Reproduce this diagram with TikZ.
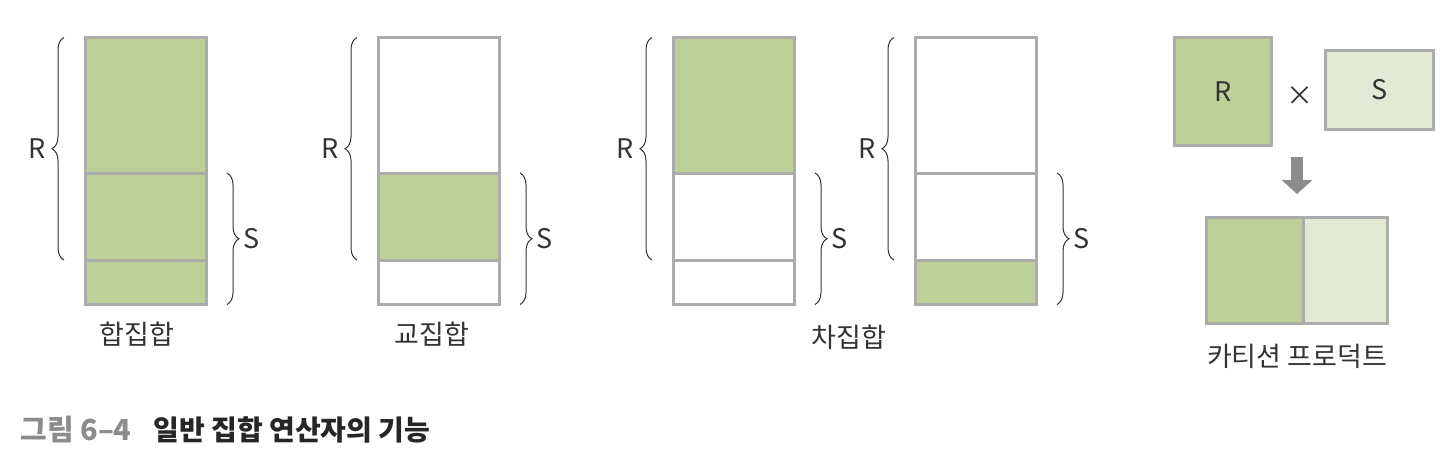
\documentclass[tikz,border=0pt]{standalone}
\usepackage{fontspec}
\setmainfont{Noto Sans CJK KR}
\usetikzlibrary{positioning,decorations.pathreplacing,arrows.meta}

\definecolor{setgreen}{HTML}{BECF99}
\definecolor{setlight}{HTML}{E2EAD5}
\definecolor{setline}{HTML}{ABACAB}
\definecolor{setarrow}{HTML}{8C8C8C}
\definecolor{settext}{HTML}{333333}

\tikzset{
  part/.style={draw=setline, line width=1.5pt, inner sep=0pt, outer sep=0pt,
    minimum width=60.5pt},
  brc/.style={decorate, decoration={brace, amplitude=6pt}, draw=settext, line width=0.5pt},
  lbl/.style={inner sep=0pt, text=settext, font=\fontsize{13.5}{15}\selectfont},
  downarrow/.style={draw=setarrow, line width=6pt, -{Triangle[width=15pt,length=7pt]}}
}

% one column of R and S, #1 name, #2 x, #3-#5 fills top, middle, bottom
\newcommand{\setstack}[5]{
\node[part, fill=#3, minimum height=67.75pt, anchor=north west] (#1t) at (#2,37.5) {};
\node[part, fill=#4, minimum height=43.5pt, below=0pt of #1t] (#1m) {};
\node[part, fill=#5, minimum height=22.25pt, below=0pt of #1m] (#1b) {};
\draw[brc] ([xshift=-10.5pt]#1m.south west) -- ([xshift=-10.5pt]#1t.north west)
  node[lbl, midway, left=9pt] (#1r) {R};
\draw[brc] ([xshift=10.5pt]#1m.north east) -- ([xshift=10.5pt]#1b.south east)
  node[lbl, midway, right=8pt] (#1s) {S};
}

\begin{document}
\begin{tikzpicture}[x=0.5pt, y=-0.5pt]
\useasboundingbox (0,0) rectangle (1440,476);

\setstack{a}{85}{setgreen}{setgreen}{setgreen}
\setstack{b}{378}{white}{setgreen}{white}
\setstack{c}{673}{setgreen}{white}{white}
\setstack{d}{915}{white}{white}{setgreen}

\node[lbl] (union) at (137,334) {합집합};
\node[lbl] (inter) at (432,334) {교집합};
\node[lbl] (diff) at (849,337) {차집합};

% cartesian product
\node[part, fill=setgreen, minimum width=48.5pt, minimum height=54pt] (cr) at (1223,91.5) {};
\node[lbl] (crr) at (cr) {R};
\node[lbl] (times) at (1300,96) {×};
\node[part, fill=setlight, minimum width=54pt, minimum height=39.5pt] (cs) at (1379.5,90) {};
\node[lbl] (css) at (cs) {S};

\coordinate (ar1) at (1297,157);
\coordinate (ar2) at (1297,194);
\draw[downarrow] (ar1) -- (ar2);

\node[part, fill=setgreen, minimum width=48.25pt, minimum height=53pt, anchor=north west] (pl) at (1206.5,217.5) {};
\node[part, fill=setlight, minimum width=42.25pt, minimum height=53pt, right=0pt of pl] (pr) {};
\node[lbl] (prod) at (1297,356) {카티션 프로덕트};

% caption
\node[anchor=west, inner sep=0pt, text=setarrow, font=\fontsize{14.5}{16}\selectfont\bfseries] (fignum) at (20,430) {그림 6–4};
\node[anchor=west, inner sep=0pt, text=black!85, font=\fontsize{14}{16}\selectfont\bfseries] (figtitle) at (153,430) {일반 집합 연산자의 기능};
\end{tikzpicture}
\end{document}
